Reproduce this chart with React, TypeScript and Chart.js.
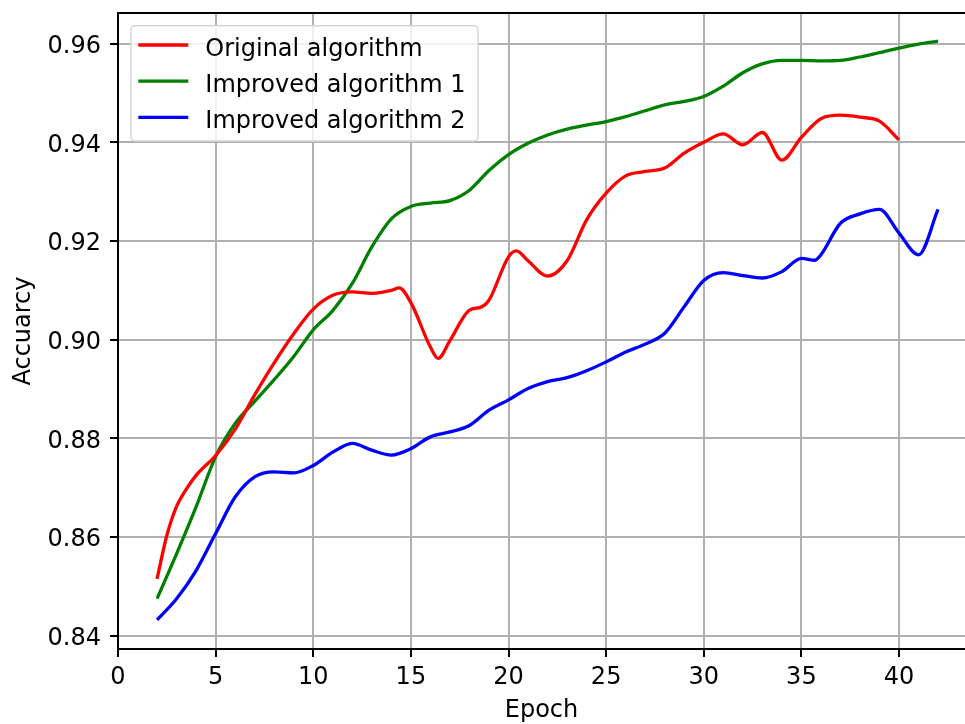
import React, { useEffect, useRef } from 'react';
import { Chart, registerables } from 'chart.js';

Chart.register(...registerables);

// ---- data ----
const seriesLabels = ['Original algorithm', 'Improved algorithm 1', 'Improved algorithm 2'];
const seriesColors = ['#ff0000', '#008000', '#0000ff'];

const originalEpochs = [2, 2.5, 3, 3.5, 4, 5, 6, 7, 8, 9, 10, 11, 12, 13, 14, 14.4, 15, 16, 16.4, 17, 18, 18.6, 19, 20, 20.4, 21, 22, 23, 24, 25, 26, 27, 28, 29, 30, 31, 32, 33, 34, 35, 36, 37, 38, 39, 40];
const originalValues = [0.8515, 0.8603, 0.8662, 0.8697, 0.8725, 0.8765, 0.8818, 0.8888, 0.8953, 0.9012, 0.9062, 0.909, 0.9097, 0.9094, 0.91, 0.9105, 0.9075, 0.8985, 0.8962, 0.8998, 0.906, 0.9066, 0.908, 0.9168, 0.918, 0.916, 0.9129, 0.916, 0.9243, 0.9297, 0.9332, 0.9341, 0.9348, 0.9378, 0.94, 0.9417, 0.9395, 0.942, 0.9364, 0.941, 0.9448, 0.9455, 0.9451, 0.9443, 0.9405];

const improved1Epochs = [2, 3, 4, 5, 6, 7, 8, 9, 10, 11, 12, 13, 14, 15, 16, 17, 18, 19, 20, 21, 22, 23, 24, 25, 26, 27, 28, 29, 30, 31, 32, 33, 34, 35, 36, 37, 38, 39, 40, 41, 42];
const improved1Values = [0.8475, 0.8566, 0.8661, 0.8763, 0.883, 0.8875, 0.8919, 0.8966, 0.902, 0.9059, 0.9114, 0.9188, 0.9245, 0.927, 0.9277, 0.9282, 0.9303, 0.9343, 0.9375, 0.9398, 0.9415, 0.9427, 0.9435, 0.9442, 0.9452, 0.9464, 0.9476, 0.9483, 0.9493, 0.9514, 0.9541, 0.9559, 0.9566, 0.9566, 0.9565, 0.9566, 0.9573, 0.9582, 0.9591, 0.9599, 0.9605];

const improved2Epochs = [2, 3, 4, 5, 6, 7, 8, 9, 10, 11, 12, 13, 14, 15, 16, 17, 18, 19, 20, 21, 22, 23, 24, 25, 26, 27, 28, 29, 30, 31, 32, 33, 34, 35, 35.7, 36, 37, 38, 39, 40, 41, 42];
const improved2Values = [0.8432, 0.8475, 0.8532, 0.8607, 0.8681, 0.8722, 0.8732, 0.873, 0.8745, 0.8772, 0.879, 0.8776, 0.8766, 0.8779, 0.8803, 0.8813, 0.8826, 0.8857, 0.8878, 0.8901, 0.8915, 0.8923, 0.8937, 0.8955, 0.8975, 0.8991, 0.9013, 0.9067, 0.912, 0.9136, 0.913, 0.9125, 0.9138, 0.9165, 0.9161, 0.9172, 0.9236, 0.9255, 0.9264, 0.9216, 0.9172, 0.9264];

const xTickValues = [0, 5, 10, 15, 20, 25, 30, 35, 40];
const yTickValues = [0.84, 0.86, 0.88, 0.9, 0.92, 0.94, 0.96];
const xTitle = 'Epoch';
const yTitle = 'Accuarcy';

const FONT = "'DejaVu Sans', 'Liberation Sans', sans-serif";

// top spine only: the reference is cropped before its right spine
const framePlugin = {
  id: 'mplFrame',
  afterDraw(chart: any) {
    const { ctx, chartArea } = chart;
    ctx.save();
    ctx.strokeStyle = '#000';
    ctx.lineWidth = 2;
    ctx.beginPath();
    ctx.moveTo(chartArea.left - 1, Math.round(chartArea.top));
    ctx.lineTo(chartArea.right, Math.round(chartArea.top));
    ctx.stroke();
    ctx.restore();
  },
};

const legendPlugin = {
  id: 'mplLegend',
  afterDraw(chart: any) {
    const { ctx, chartArea } = chart;
    const x0 = chartArea.left + 13;
    const y0 = chartArea.top + 12.7;
    const w = 347;
    const h = 115.3;
    ctx.save();
    ctx.beginPath();
    ctx.roundRect(x0, y0, w, h, 4);
    ctx.fillStyle = 'rgba(255,255,255,0.8)';
    ctx.fill();
    ctx.strokeStyle = '#d6d6d6';
    ctx.lineWidth = 1.5;
    ctx.stroke();
    ctx.font = `24px ${FONT}`;
    ctx.textAlign = 'left';
    ctx.textBaseline = 'alphabetic';
    chart.data.datasets.forEach((ds: any, i: number) => {
      const ly = y0 + 19.3 + i * 36.2;
      ctx.beginPath();
      ctx.moveTo(x0 + 7.3, ly);
      ctx.lineTo(x0 + 57.3, ly);
      ctx.strokeStyle = ds.borderColor;
      ctx.lineWidth = 3.3;
      ctx.lineCap = 'butt';
      ctx.stroke();
      ctx.fillStyle = '#000';
      ctx.fillText(ds.label, x0 + 74.3, ly + 10.7);
    });
    ctx.restore();
  },
};

function toPoints(xs: number[], ys: number[]) {
  return xs.map((x, i) => ({ x, y: ys[i] }));
}

export default function App() {
  const ref = useRef<HTMLCanvasElement>(null);

  useEffect(() => {
    const canvas = ref.current;
    if (!canvas) return;
    const seriesX = [originalEpochs, improved1Epochs, improved2Epochs];
    const seriesY = [originalValues, improved1Values, improved2Values];
    const gridOpts = {
      color: '#b0b0b0',
      lineWidth: 2,
      drawTicks: true,
      tickLength: 8,
      tickColor: '#000',
      tickWidth: 2,
    };
    const chart = new Chart(canvas, {
      type: 'line',
      data: {
        datasets: seriesLabels.map((label, i) => ({
          label,
          data: toPoints(seriesX[i], seriesY[i]),
          borderColor: seriesColors[i],
          backgroundColor: seriesColors[i],
          borderWidth: 3.3,
          pointRadius: 0,
          pointHoverRadius: 0,
          fill: false,
          tension: 0.4,
          cubicInterpolationMode: 'monotone' as const,
        })),
      },
      options: {
        responsive: false,
        animation: false,
        devicePixelRatio: 1,
        layout: { padding: { left: 0, top: 13, right: 0, bottom: 0 } },
        plugins: {
          legend: { display: false },
          tooltip: { enabled: false },
        },
        scales: {
          x: {
            type: 'linear',
            position: 'bottom',
            min: 0,
            max: 43.38,
            afterBuildTicks: (s: any) => {
              s.ticks = xTickValues.map((v) => ({ value: v }));
            },
            afterFit: (s: any) => {
              s.height = 75;
              s.paddingLeft = 0;
              s.paddingRight = 0;
            },
            grid: gridOpts,
            border: { display: true, color: '#000', width: 2 },
            ticks: {
              color: '#000',
              font: { family: FONT, size: 24 },
              padding: 6,
              maxRotation: 0,
              autoSkip: false,
              callback: (v: any) => String(v),
            },
            title: {
              display: true,
              text: xTitle,
              color: '#000',
              font: { family: FONT, size: 24, lineHeight: 1 },
              padding: { top: 0, bottom: 1 },
            },
          },
          y: {
            type: 'linear',
            min: 0.8373,
            max: 0.96622,
            afterBuildTicks: (s: any) => {
              s.ticks = yTickValues.map((v) => ({ value: v }));
            },
            afterFit: (s: any) => {
              s.width = 118;
              s.paddingTop = 0;
              s.paddingBottom = 0;
            },
            grid: gridOpts,
            border: { display: true, color: '#000', width: 2 },
            ticks: {
              color: '#000',
              font: { family: FONT, size: 24 },
              padding: 9,
              labelOffset: 3,
              autoSkip: false,
              callback: (v: any) => Number(v).toFixed(2),
            },
            title: {
              display: true,
              text: yTitle,
              color: '#000',
              font: { family: FONT, size: 24 },
              padding: { top: 9, bottom: 0 },
            },
          },
        },
      },
      plugins: [framePlugin, legendPlugin],
    } as any);
    return () => chart.destroy();
  }, []);

  return (
    <div
      style={{
        position: 'fixed',
        left: 0,
        top: 0,
        width: 965,
        height: 724,
        overflow: 'hidden',
        background: '#fff',
      }}
    >
      <canvas ref={ref} width={965} height={724} style={{ display: 'block', width: 965, height: 724 }} />
    </div>
  );
}
